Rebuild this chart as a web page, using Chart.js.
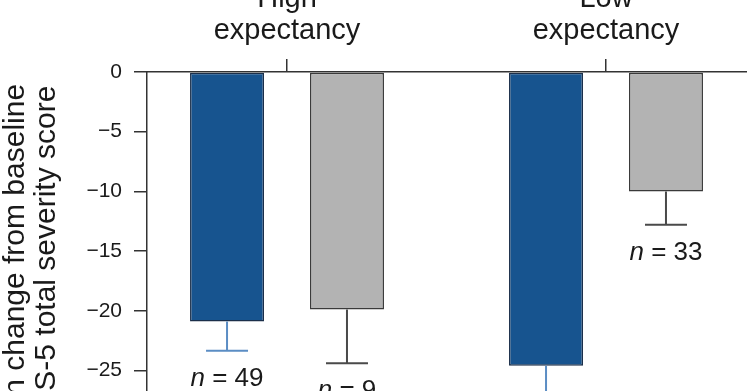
<!DOCTYPE html>
<html>
<head>
<meta charset="utf-8">
<script src="https://cdn.jsdelivr.net/npm/chart.js@4.4.1/dist/chart.umd.min.js"></script>
<style>
  html, body { margin: 0; padding: 0; overflow: hidden; background: #fff; }
  #wrap { position: absolute; left: 0; top: 0; }
</style>
</head>
<body>
<div id="wrap"><canvas id="chart" width="747" height="466"></canvas></div>
<script>
// values
const categories = ['High expectancy', 'Low expectancy']
const seriesNames = ['Blue group', 'Grey group']
const blueMeans = [-20.9, -24.6]
const blueErrors = [2.45, 2.7]
const blueCounts = [49, null]   // second label is below the visible area
const greyMeans = [-19.9, -10.0]
const greyErrors = [4.5, 2.8]
const greyCounts = [9, 33]
const yTitle = ['Mean change from baseline', 'CAPS-5 total severity score']

const family = "'Liberation Sans', Arial, sans-serif"
const textColor = '#1a1a1a'
const axisColor = '#333333'

const errorBars = {
  id: 'errorBars',
  afterDatasetsDraw(chart) {
    const ctx = chart.ctx
    const yScale = chart.scales.y
    chart.data.datasets.forEach((ds, di) => {
      const meta = chart.getDatasetMeta(di)
      meta.data.forEach((bar, i) => {
        const yEnd = yScale.getPixelForValue(ds.data[i].y - ds.errors[i])
        ctx.save()
        ctx.strokeStyle = ds.errorColor
        ctx.lineWidth = 2
        ctx.beginPath()
        ctx.moveTo(bar.x, bar.y)
        ctx.lineTo(bar.x, yEnd)
        ctx.moveTo(bar.x - 21, yEnd)
        ctx.lineTo(bar.x + 21, yEnd)
        ctx.stroke()

        const n = ds.counts[i]
        if (n != null) {
          const rest = ' = ' + n
          ctx.fillStyle = textColor
          ctx.textBaseline = 'alphabetic'
          ctx.textAlign = 'left'
          ctx.font = 'italic 26px ' + family
          const wN = ctx.measureText('n').width
          ctx.font = '26px ' + family
          const wRest = ctx.measureText(rest).width
          const x0 = bar.x - (wN + wRest) / 2
          const yText = yEnd + 35
          ctx.font = 'italic 26px ' + family
          ctx.fillText('n', x0, yText)
          ctx.font = '26px ' + family
          ctx.fillText(rest, x0 + wN, yText)
        }
        ctx.restore()
      })
    })
  }
}

function noPadding(scale) {
  scale.paddingTop = 0
  scale.paddingBottom = 0
  scale.paddingLeft = 0
  scale.paddingRight = 0
}

const ctx = document.getElementById('chart').getContext('2d')
new Chart(ctx, {
  type: 'bar',
  data: {
    datasets: [
      {
        label: seriesNames[0],
        data: categories.map((c, i) => ({ x: i, y: blueMeans[i] })),
        errors: blueErrors,
        counts: blueCounts,
        errorColor: '#5b8dc4',
        backgroundColor: '#17548f',
        borderColor: '#1b2f4a',
        borderWidth: 1.5,
        borderSkipped: false,
        categoryPercentage: 0.752,
        barPercentage: 0.617
      },
      {
        label: seriesNames[1],
        data: categories.map((c, i) => ({ x: i, y: greyMeans[i] })),
        errors: greyErrors,
        counts: greyCounts,
        errorColor: '#4a4a4a',
        backgroundColor: '#b3b3b3',
        borderColor: '#3a3a3a',
        borderWidth: 1.5,
        borderSkipped: false,
        categoryPercentage: 0.752,
        barPercentage: 0.617
      }
    ]
  },
  options: {
    responsive: false,
    animation: false,
    layout: { padding: 0 },
    plugins: {
      legend: { display: false },
      tooltip: { enabled: false }
    },
    scales: {
      x: {
        type: 'linear',
        position: 'top',
        offset: false,
        min: -0.4389,
        max: 1.442,
        afterBuildTicks: (scale) => {
          scale.ticks = categories.map((c, i) => ({ value: i }))
        },
        afterFit: (scale) => {
          scale.height = 72
          noPadding(scale)
        },
        grid: {
          offset: false,
          drawOnChartArea: false,
          drawTicks: true,
          tickLength: 13,
          color: axisColor,
          lineWidth: 1.5
        },
        border: { color: axisColor, width: 1.5 },
        ticks: {
          autoSkip: false,
          maxRotation: 0,
          padding: 12,
          color: textColor,
          font: { family: family, size: 29, lineHeight: 1.1 },
          callback: (value, index) => categories[index].split(' ')
        }
      },
      y: {
        min: -33,
        max: 0,
        afterFit: (scale) => {
          scale.width = 147
          noPadding(scale)
        },
        grid: {
          drawOnChartArea: false,
          drawTicks: true,
          tickLength: 13,
          color: axisColor,
          lineWidth: 1.5
        },
        border: { color: axisColor, width: 1.5 },
        ticks: {
          stepSize: 5,
          includeBounds: false,
          padding: 12,
          color: textColor,
          font: { family: family, size: 21 },
          callback: (v) => v < 0 ? '\u2212' + Math.abs(v) : '0'
        },
        title: {
          display: true,
          text: yTitle,
          color: textColor,
          padding: { top: 0, bottom: 0 },
          font: { family: family, size: 30, lineHeight: 31 / 30 }
        }
      }
    }
  },
  plugins: [errorBars]
})
</script>
</body>
</html>
